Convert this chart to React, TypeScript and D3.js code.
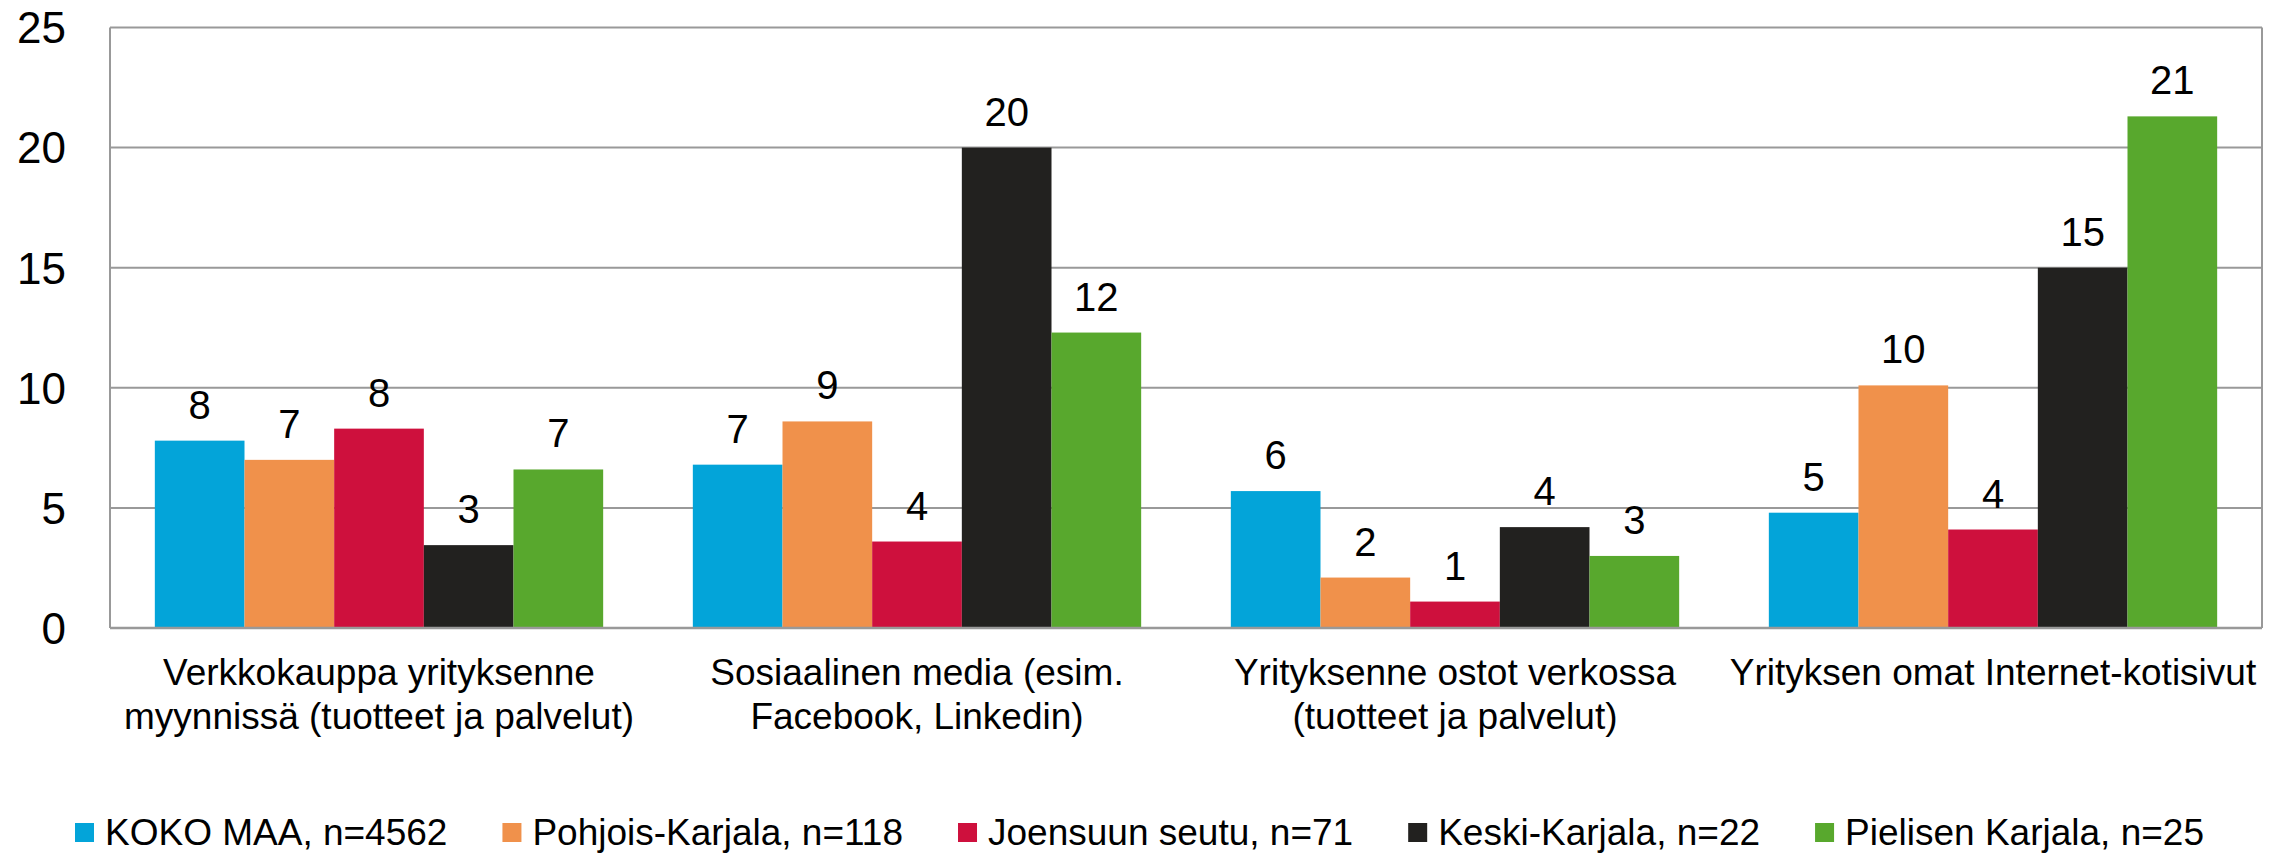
import * as d3 from "d3";
import { useRef, useEffect } from "react";

const categories = [
  "Verkkokauppa yrityksenne\nmyynnissä (tuotteet ja palvelut)",
  "Sosiaalinen media (esim.\nFacebook, Linkedin)",
  "Yrityksenne ostot verkossa\n(tuotteet ja palvelut)",
  "Yrityksen omat Internet-kotisivut",
];

const seriesNames = [
  "KOKO MAA, n=4562",
  "Pohjois-Karjala, n=118",
  "Joensuun seutu, n=71",
  "Keski-Karjala, n=22",
  "Pielisen Karjala, n=25",
];

const kokoMaa = [7.8, 6.8, 5.7, 4.8];
const pohjoisKarjala = [7.0, 8.6, 2.1, 10.1];
const joensuunSeutu = [8.3, 3.6, 1.1, 4.1];
const keskiKarjala = [3.45, 20.0, 4.2, 15.0];
const pielisenKarjala = [6.6, 12.3, 3.0, 21.3];

const yTicks = [0, 5, 10, 15, 20, 25];

const seriesColors = ["#03A4D9", "#F0914B", "#CE103D", "#22211F", "#58A82D"];

const FONT = "'Liberation Sans', Arial, sans-serif";

function App() {
  const svgRef = useRef<SVGSVGElement>(null);

  useEffect(() => {
    const WIDTH = 2289;
    const HEIGHT = 853;
    const LEFT = 110;
    const RIGHT = 2262;
    const TOP = 27.5;
    const BOTTOM = 628;

    const values = [kokoMaa, pohjoisKarjala, joensuunSeutu, keskiKarjala, pielisenKarjala];

    const svg = d3.select(svgRef.current)
      .attr("width", WIDTH)
      .attr("height", HEIGHT);
    svg.selectAll("*").remove();

    const x0 = d3.scaleBand<number>()
      .domain(categories.map((_, i) => i))
      .range([LEFT, RIGHT])
      .paddingInner(0)
      .paddingOuter(0);
    const bw = x0.bandwidth();
    const x1 = d3.scaleBand<number>()
      .domain(seriesNames.map((_, i) => i))
      .range([bw / 12, (bw * 11) / 12]);
    const y = d3.scaleLinear().domain([0, 25]).range([BOTTOM, TOP]);

    // gridlines + tick labels
    svg.append("g").selectAll("line")
      .data(yTicks)
      .join("line")
      .attr("x1", LEFT)
      .attr("x2", RIGHT)
      .attr("y1", (d) => y(d))
      .attr("y2", (d) => y(d))
      .attr("stroke", "#999")
      .attr("stroke-width", 2);

    svg.append("g").selectAll("text")
      .data(yTicks)
      .join("text")
      .attr("x", 66)
      .attr("y", (d) => y(d))
      .attr("dy", "0.36em")
      .attr("text-anchor", "end")
      .attr("font-family", FONT)
      .attr("font-size", 44)
      .attr("fill", "#000")
      .text((d) => d);

    // plot border (left/right)
    svg.append("line")
      .attr("x1", LEFT).attr("x2", LEFT)
      .attr("y1", TOP).attr("y2", BOTTOM)
      .attr("stroke", "#999").attr("stroke-width", 2);
    svg.append("line")
      .attr("x1", RIGHT).attr("x2", RIGHT)
      .attr("y1", TOP).attr("y2", BOTTOM)
      .attr("stroke", "#999").attr("stroke-width", 2);

    // bars
    const groups = svg.append("g").selectAll("g")
      .data(categories.map((_, ci) => ci))
      .join("g")
      .attr("transform", (ci) => `translate(${x0(ci)},0)`);

    groups.selectAll("rect")
      .data((ci) => values.map((s, si) => ({ si, v: s[ci] })))
      .join("rect")
      .attr("x", (d) => x1(d.si)!)
      .attr("width", x1.bandwidth())
      .attr("y", (d) => y(d.v))
      .attr("height", (d) => BOTTOM - y(d.v))
      .attr("fill", (d) => seriesColors[d.si]);

    groups.selectAll("text")
      .data((ci) => values.map((s, si) => ({ si, v: s[ci] })))
      .join("text")
      .attr("x", (d) => x1(d.si)! + x1.bandwidth() / 2)
      .attr("y", (d) => y(d.v) - 22)
      .attr("text-anchor", "middle")
      .attr("font-family", FONT)
      .attr("font-size", 40)
      .attr("fill", "#000")
      .text((d) => Math.round(d.v));

    // bottom axis line on top of bars
    svg.append("line")
      .attr("x1", LEFT).attr("x2", RIGHT)
      .attr("y1", BOTTOM).attr("y2", BOTTOM)
      .attr("stroke", "#999").attr("stroke-width", 2.5);

    // category labels
    const catText = svg.append("g").selectAll("text")
      .data(categories)
      .join("text")
      .attr("x", (_, i) => x0(i)! + bw / 2)
      .attr("y", 685)
      .attr("text-anchor", "middle")
      .attr("font-family", FONT)
      .attr("font-size", 37)
      .attr("fill", "#000");
    catText.selectAll("tspan")
      .data((d) => d.split("\n"))
      .join("tspan")
      .attr("x", function () {
        return (this as any).parentNode.getAttribute("x");
      })
      .attr("dy", (_, i) => (i === 0 ? 0 : 44))
      .text((d) => d);

    // legend
    const legend = svg.append("g");
    let lx = 75;
    seriesNames.forEach((name, i) => {
      legend.append("rect")
        .attr("x", lx)
        .attr("y", 823)
        .attr("width", 19)
        .attr("height", 19)
        .attr("fill", seriesColors[i]);
      const t = legend.append("text")
        .attr("x", lx + 30)
        .attr("y", 845)
        .attr("font-family", FONT)
        .attr("font-size", 37)
        .attr("fill", "#000")
        .text(name);
      const w = (t.node() as SVGTextElement).getComputedTextLength();
      lx = lx + 30 + w + 55;
    });
  }, []);

  return (
    <div style={{ position: "absolute", left: 0, top: 0 }}>
      <svg ref={svgRef} style={{ display: "block" }} />
    </div>
  );
}

export default App;
